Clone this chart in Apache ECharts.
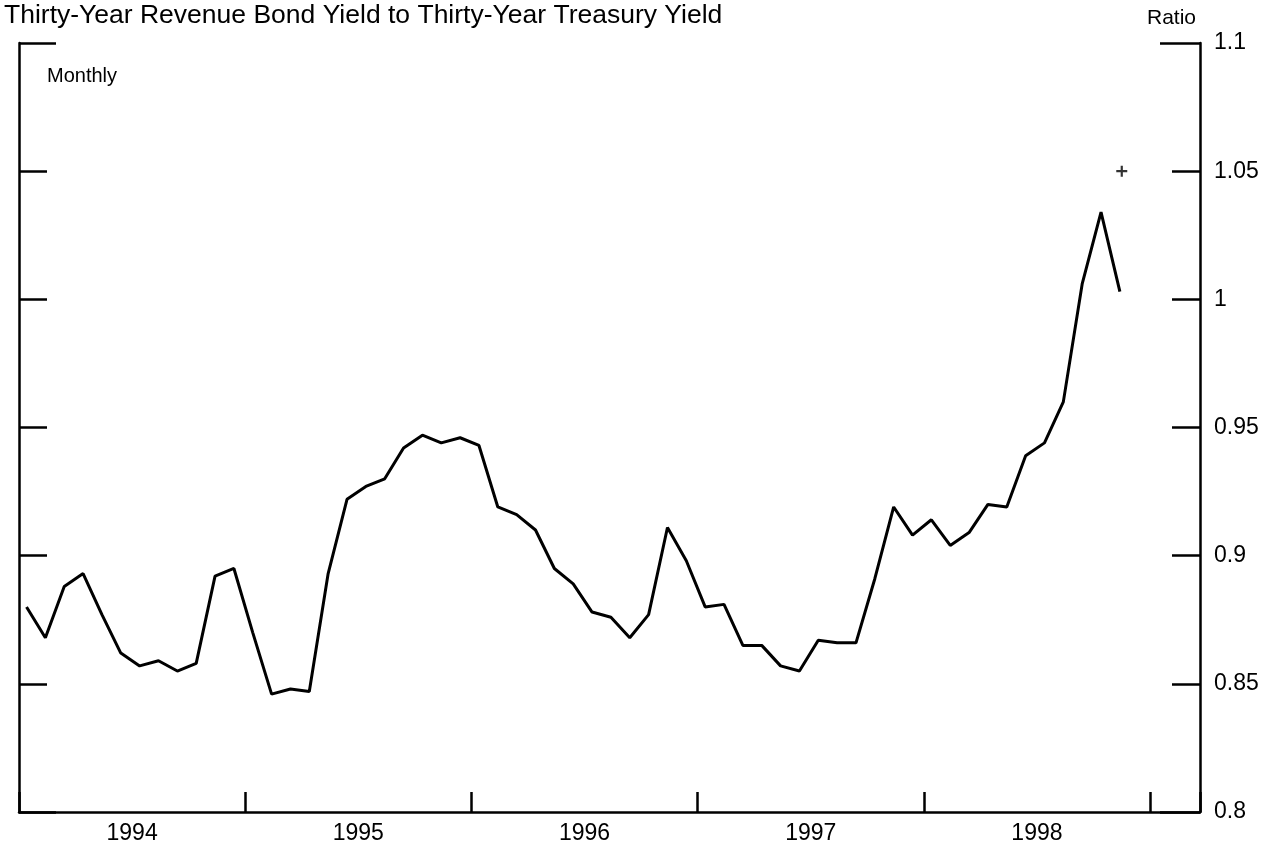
<!DOCTYPE html>
<html>
<head>
<meta charset="utf-8">
<script src="https://cdn.jsdelivr.net/npm/echarts@6/dist/echarts.min.js"></script>
<style>
  html, body { margin: 0; padding: 0; background: #fff; }
  #chart { width: 1287px; height: 852px; }
</style>
</head>
<body>
<div id="chart"></div>
<script>
// Year labels (centred on each year span)
var years = ['1994', '1995', '1996', '1997', '1998'];
// Monthly ratio, Jan 1994 .. Nov 1998
var ratio1994 = [0.880, 0.868, 0.888, 0.893, 0.877, 0.862, 0.857, 0.859, 0.855, 0.858, 0.892, 0.895];
var ratio1995 = [0.870, 0.846, 0.848, 0.847, 0.893, 0.922, 0.927, 0.930, 0.942, 0.947, 0.944, 0.946];
var ratio1996 = [0.943, 0.919, 0.916, 0.910, 0.895, 0.889, 0.878, 0.876, 0.868, 0.877, 0.911, 0.898];
var ratio1997 = [0.880, 0.881, 0.865, 0.865, 0.857, 0.855, 0.867, 0.866, 0.866, 0.891, 0.919, 0.908];
var ratio1998 = [0.914, 0.904, 0.909, 0.920, 0.919, 0.939, 0.944, 0.960, 1.006, 1.034, 1.003];
// Latest (partial-month) reading shown as a plus sign
var latestValue = 1.05;
var latestMonth = 58.5; // months after Jan 1994

var monthly = [].concat(ratio1994, ratio1995, ratio1996, ratio1997, ratio1998);
var lineData = monthly.map(function (v, i) { return [i + 0.4, v]; });

var FONT = '"Liberation Sans", Arial, Helvetica, sans-serif';
var chart = echarts.init(document.getElementById('chart'), null, { renderer: 'canvas' });

var plusPath = 'path://M4,0 L6,0 L6,4 L10,4 L10,6 L6,6 L6,10 L4,10 L4,6 L0,6 L0,4 L4,4 Z';
var BLACK = '#000';

function yAxisBase(pos, interval, tickLen, showLine, showLabel) {
  return {
    type: 'value', position: pos, min: 0.8, max: 1.1, interval: interval,
    axisLine: { show: showLine, onZero: false, lineStyle: { color: BLACK, width: 2.5 } },
    axisTick: { show: true, inside: true, length: tickLen, lineStyle: { color: BLACK, width: 2.5 } },
    axisLabel: showLabel ? {
      show: true, margin: 14, fontFamily: FONT, fontSize: 23, color: BLACK,
      formatter: function (v) { return String(+v.toFixed(2)); }
    } : { show: false },
    splitLine: { show: false }
  };
}

chart.setOption({
  backgroundColor: '#ffffff',
  animation: false,
  title: [
    { text: 'Thirty-Year Revenue Bond Yield to Thirty-Year Treasury Yield', left: 4, top: 2, padding: 0,
      textStyle: { fontFamily: FONT, fontSize: 26.5, fontWeight: 'normal', color: BLACK } },
    { text: 'Monthly', left: 47, top: 66, padding: 0,
      textStyle: { fontFamily: FONT, fontSize: 20, fontWeight: 'normal', color: BLACK } },
    { text: 'Ratio', right: 91, top: 8, padding: 0,
      textStyle: { fontFamily: FONT, fontSize: 21, fontWeight: 'normal', color: BLACK } }
  ],
  grid: { left: 19, right: 87, top: 43, bottom: 40, containLabel: false },
  xAxis: [
    {
      type: 'value', min: 0, max: 62.65, interval: 6,
      axisLine: { show: true, onZero: false, lineStyle: { color: BLACK, width: 2.5 } },
      axisTick: { show: false },
      splitLine: { show: false },
      axisLabel: {
        margin: 10, fontFamily: FONT, fontSize: 23, color: BLACK,
        formatter: function (v) {
          if (Math.abs(v % 12 - 6) < 1e-6) { return years[Math.round((v - 6) / 12)] || ''; }
          return '';
        }
      }
    },
    {
      type: 'value', min: 0, max: 62.65, interval: 12, position: 'bottom',
      axisLine: { show: false, onZero: false },
      axisTick: { show: true, inside: true, length: 20, lineStyle: { color: BLACK, width: 2.5 } },
      axisLabel: { show: false },
      splitLine: { show: false }
    }
  ],
  yAxis: [
    yAxisBase('left', 0.05, 28, true, false),
    yAxisBase('right', 0.05, 28, true, true),
    yAxisBase('left', 0.3, 37, false, false),
    yAxisBase('right', 0.3, 40, false, false)
  ],
  series: [
    {
      type: 'line', xAxisIndex: 0, yAxisIndex: 0,
      data: lineData,
      showSymbol: false, symbol: 'none',
      lineStyle: { color: BLACK, width: 3 },
      z: 3
    },
    {
      type: 'scatter', xAxisIndex: 0, yAxisIndex: 0,
      data: [[latestMonth, latestValue]],
      symbol: plusPath, symbolSize: 11,
      itemStyle: { color: BLACK },
      z: 4
    }
  ]
});
</script>
</body>
</html>
